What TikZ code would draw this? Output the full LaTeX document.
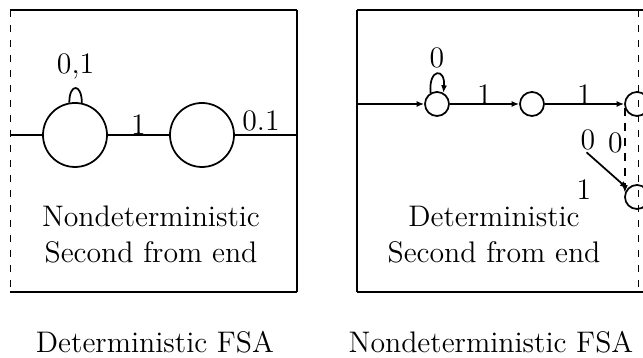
\documentclass[tikz,border=0pt]{standalone}
\usetikzlibrary{arrows.meta}
\begin{document}
\begin{tikzpicture}[x=0.4pt, y=0.4pt,
  txt/.style={font=\fontsize{11.9}{14.4}\selectfont, align=center, inner sep=0pt},
  st/.style={draw, circle, line width=0.7pt, inner sep=0pt},
  bigst/.style={st, minimum size=25.6pt},
  smallst/.style={st, minimum size=9.6pt},
  edge/.style={line width=0.7pt},
  arr/.style={-{Latex[length=3pt,width=2.4pt]}, line width=0.7pt}]
\useasboundingbox (0,0) rectangle (643,358);

\draw[line width=0.8pt] (10,348) -- (297,348) (10,66) -- (297,66);
\draw[line width=0.4pt, dashed] (11,348) -- (11,66);
\draw[line width=0.8pt] (297,348) -- (297,66);

\node[bigst] at (75,223) (n1) {};
\node[bigst] at (202,223) (n2) {};
\coordinate (lin) at (11,223);
\coordinate (lout) at (297,223);
\draw[edge] (lin) -- (n1);
\draw[edge] (n1) -- node[txt, above=0pt] {1} (n2);
\draw[edge] (n2) -- node[txt, above=1pt, pos=0.42] {0.1} (lout);
\draw[edge] (n1.100) to[out=90, in=90, looseness=4] node[txt, above=3pt] {0,1} (n1.78);

\draw[line width=0.8pt] (357,348) -- (643,348) (357,66) -- (643,66);
\draw[line width=0.5pt] (357,348) -- (357,66);
\draw[line width=0.4pt, dashed] (639,348) -- (639,66);

\node[smallst] at (437,254) (A) {};
\node[smallst] at (532,254) (B) {};
\node[smallst] at (637,254) (C) {};
\node[smallst] at (637,161) (D) {};
\coordinate (rin) at (357,254);
\draw[arr] (rin) -- (A);
\draw[arr] (A) -- node[txt, above=-0.5pt] {1} (B);
\draw[arr] (B) -- node[txt, above=-0.5pt] {1} (C);
\draw[arr] (A.120) to[out=95, in=85, looseness=5] node[txt, above=2pt] {0} (A.60);
\draw[arr, shorten <=24pt] (B) -- node[txt, above=1pt, pos=0.54] {0} (D);
\draw[arr, dashed] (C.200) -- node[txt, left=0.5pt, pos=0.41] {0} (D.160);
\node[txt] at (584,168) (lone) {1};

\node[txt] at (151,123) (ndtxt) {Nondeterministic\\Second from end};
\node[txt] at (494,123) (dtxt) {Deterministic\\Second from end};
\node[txt, anchor=base] at (155,5) (dfsa) {Deterministic FSA};
\node[txt, anchor=base] at (491,5) (nfsa) {Nondeterministic FSA};
\end{tikzpicture}
\end{document}
